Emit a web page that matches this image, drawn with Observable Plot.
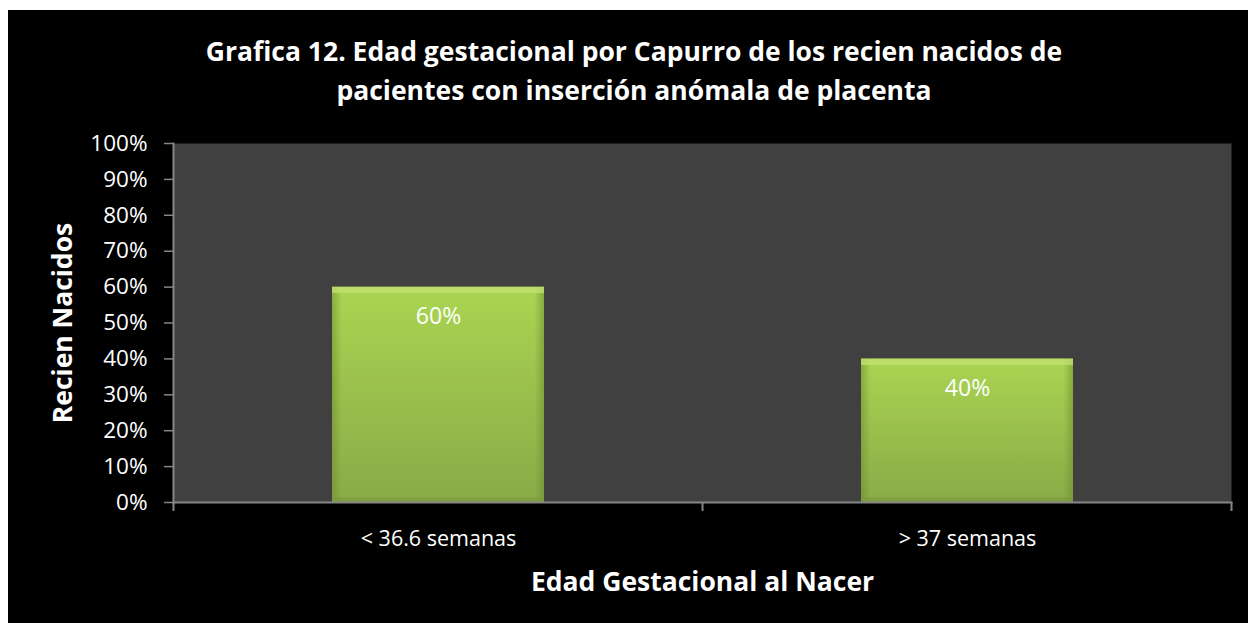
<!DOCTYPE html>
<html>
<head>
<meta charset="utf-8">
<script src="https://cdn.jsdelivr.net/npm/d3@7"></script>
<script src="https://cdn.jsdelivr.net/npm/@observablehq/plot@0.6"></script>
<style>
  html, body { margin: 0; padding: 0; background: #fff; }
  #box { position: absolute; left: 8px; top: 10px; width: 1240px; height: 613px; background: #000; overflow: hidden; }
  #title { height: 123px; box-sizing: border-box; padding-top: 22px; padding-left: 12px;
           color: #fff; font-family: "Open Sans", sans-serif; font-weight: bold; font-size: 26.5px;
           line-height: 39px; text-align: center; }
  #chart svg { display: block; }
</style>
</head>
<body>
<div id="box">
  <div id="title">Grafica 12. Edad gestacional por Capurro de los recien nacidos de<br>pacientes con inserción anómala de placenta</div>
  <div id="chart"></div>
</div>
<script>
const categories = ["< 36.6 semanas", "> 37 semanas"];
const values = [0.60, 0.40];
const yTicks = [0, 0.1, 0.2, 0.3, 0.4, 0.5, 0.6, 0.7, 0.8, 0.9, 1.0];
const xTitle = "Edad Gestacional al Nacer";
const yTitle = "Recien Nacidos";

const data = categories.map((c, i) => ({cat: c, value: values[i]}));
const pct = d3.format(".0%");
const axisGray = "#868686";

const plot = Plot.plot({
  width: 1240,
  height: 490,
  marginTop: 10,
  marginBottom: 121,
  marginLeft: 165,
  marginRight: 17,
  style: {background: "#000", color: "#fff", fontFamily: "'Open Sans', sans-serif", fontSize: "22px", overflow: "visible"},
  x: {domain: categories, paddingInner: 0.6, paddingOuter: 0.3, align: 0.5, axis: null},
  y: {domain: [0, 1], axis: null},
  marks: [
    Plot.frame({fill: "#404040", stroke: null}),
    Plot.barY(data, {x: "cat", y: "value", fill: "url(#barGrad)"}),
    Plot.barY(data, {x: "cat", y: "value", fill: "url(#barSide)"}),
    Plot.tickY(data, {x: "cat", y: "value", stroke: "#bfe070", strokeOpacity: 0.8, strokeWidth: 6, dy: 3}),
    Plot.tickY(data, {x: "cat", y: 0, stroke: "#7d9b3f", strokeOpacity: 0.8, strokeWidth: 5, dy: -2.5}),
    Plot.text(data, {x: "cat", y: "value", text: d => pct(d.value), dy: 30, fill: "#fff", fontSize: 23, lineAnchor: "middle"}),
    Plot.axisY({ticks: yTicks, tickFormat: pct, tickSize: 9, tickPadding: 17, fontSize: 22.5, stroke: axisGray, fill: "#fff", label: null, strokeWidth: 1.5}),
    Plot.axisX({tickSize: 0, tickPadding: 28, fontSize: 21.5, fill: "#fff", label: null}),
    Plot.frame({anchor: "left", stroke: axisGray, strokeWidth: 2}),
    Plot.frame({anchor: "bottom", stroke: axisGray, strokeWidth: 2}),
    Plot.text([xTitle], {frameAnchor: "bottom", dy: 80, lineAnchor: "middle", textAnchor: "middle", fontSize: 26.5, fontWeight: "bold", fill: "#fff"}),
    Plot.text([yTitle], {frameAnchor: "left", dx: -110, rotate: -90, lineAnchor: "middle", textAnchor: "middle", fontSize: 26.5, fontWeight: "bold", fill: "#fff"})
  ]
});

// gradients for the bars
const ns = "http://www.w3.org/2000/svg";
const defs = document.createElementNS(ns, "defs");
defs.innerHTML = `
  <linearGradient id="barGrad" x1="0" y1="0" x2="0" y2="1">
    <stop offset="0" stop-color="#aad552"/>
    <stop offset="1" stop-color="#8aaa47"/>
  </linearGradient>
  <linearGradient id="barSide" x1="0" y1="0" x2="1" y2="0">
    <stop offset="0" stop-color="#6d8a30" stop-opacity="0.55"/>
    <stop offset="0.045" stop-color="#6d8a30" stop-opacity="0"/>
    <stop offset="0.955" stop-color="#6d8a30" stop-opacity="0"/>
    <stop offset="1" stop-color="#6d8a30" stop-opacity="0.55"/>
  </linearGradient>`;
plot.insertBefore(defs, plot.firstChild);

// category boundary ticks on the x axis, computed from the band scale
const xs = plot.scale("x");
const ys = plot.scale("y");
const y0 = ys.apply(0);
const bounds = new Set();
categories.forEach(c => {
  const center = xs.apply(c) + xs.bandwidth / 2;
  bounds.add(center - xs.step / 2);
  bounds.add(center + xs.step / 2);
});
const g = document.createElementNS(ns, "g");
for (const bx of bounds) {
  const l = document.createElementNS(ns, "line");
  l.setAttribute("x1", bx); l.setAttribute("x2", bx);
  l.setAttribute("y1", y0); l.setAttribute("y2", y0 + 9);
  l.setAttribute("stroke", axisGray); l.setAttribute("stroke-width", 2);
  g.appendChild(l);
}
plot.appendChild(g);

document.getElementById("chart").appendChild(plot);
</script>
</body>
</html>
